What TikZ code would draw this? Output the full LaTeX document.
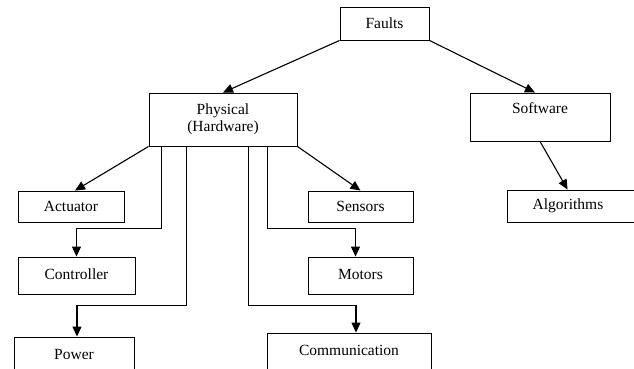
\documentclass[tikz,border=0pt]{standalone}
\usepackage{fontspec}
\setmainfont{Liberation Serif}
\usetikzlibrary{arrows.meta,calc}
\begin{document}
\begin{tikzpicture}[x=1pt,y=-1pt,
  box/.style={draw,line width=0.9pt,rectangle,inner sep=0pt,align=center,font=\fontsize{15.5}{17.5}\selectfont},
  arr/.style={line width=1.1pt,-{Triangle[length=10pt,width=9pt]}}]
\useasboundingbox (0,0) rectangle (634,369);
\node[box,minimum width=89pt,minimum height=33pt] (faults) at (384.5,23.5) {\raisebox{1pt}{Faults}};
\node[box,minimum width=148pt,minimum height=53pt] (phys) at (223,119.5) {Physical\\(Hardware)};
\node[box,minimum width=140pt,minimum height=48pt] (soft) at (540,117) {Software\\\mbox{}};
\node[box,minimum width=106pt,minimum height=31pt] (act) at (71,206.5) {Actuator};
\node[box,minimum width=117pt,minimum height=37pt] (ctrl) at (76.5,275.5) {\raisebox{2.5pt}{Controller}};
\node[box,minimum width=120pt,minimum height=37pt] (pow) at (74,355.5) {\raisebox{3pt}{Power}};
\node[box,minimum width=105pt,minimum height=31pt] (sens) at (360.5,206.5) {Sensors};
\node[box,minimum width=105pt,minimum height=37pt] (mot) at (360.5,275.5) {\raisebox{2.5pt}{Motors}};
\node[box,minimum width=164pt,minimum height=41pt] (comm) at (349,353.5) {\raisebox{6pt}{Communication}};
\node[box,minimum width=133pt,minimum height=32pt] (alg) at (573.5,206) {\hspace*{-11pt}Algorithms};
\draw[arr] (faults.south west) -- (phys.north);
\draw[arr] (faults.south east) -- ($(soft.north)+(-5,0)$);
\draw[arr] (soft.south) -- ($(alg.north west)+(61,0)$);
\draw[arr] (phys.south west) -- ($(act.north)+(4,0)$);
\draw[arr] (phys.south east) -- (sens.north);
\draw[arr] ($(phys.south west)+(13,0)$) -- ++(0,82) -| (ctrl.north);
\draw[arr] ($(phys.south west)+(38,0)$) -- ++(0,159) -| ($(pow.north)+(3,0)$);
\draw[arr] ($(phys.south west)+(100,0)$) -- ++(0,159) -| ($(comm.north)+(7,0)$);
\draw[arr] ($(phys.south west)+(119,0)$) -- ++(0,82) -| ($(mot.north)+(-5,0)$);
\end{tikzpicture}
\end{document}
